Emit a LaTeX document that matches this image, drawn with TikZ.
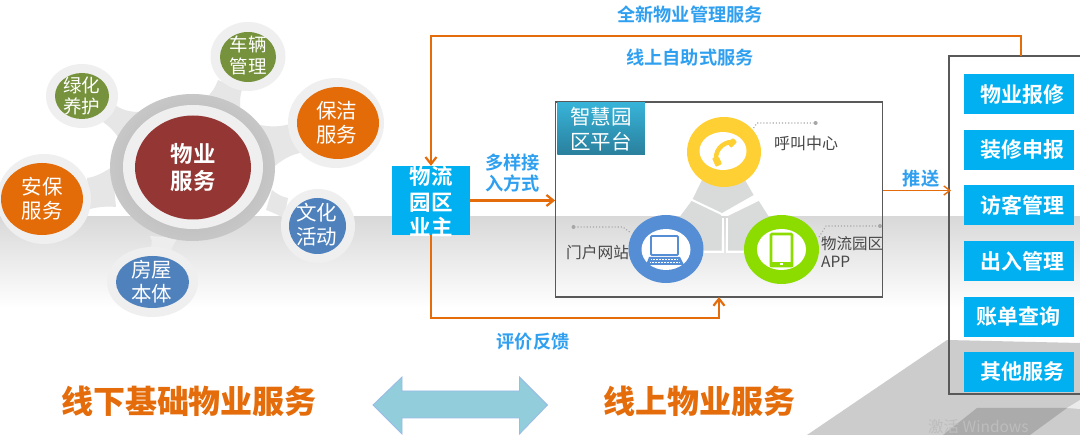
\documentclass[tikz,border=0pt]{standalone}
\usepackage{fontspec}
\setmainfont{Noto Sans CJK SC}[BoldFont={Noto Sans CJK SC Bold}]
\newfontfamily\heavyfont{Noto Sans CJK SC Black}
\usetikzlibrary{arrows.meta,shapes.geometric,shapes.arrows}
\definecolor{flow}{HTML}{E46C0A}
\definecolor{sky}{HTML}{00B0F0}
\definecolor{lab}{HTML}{2F9FF0}
\definecolor{halo}{HTML}{EFEFEF}
\definecolor{neck}{HTML}{E6E6E6}
\definecolor{tripod}{HTML}{D9DBDB}
\definecolor{grn}{HTML}{76923C}
\definecolor{org}{HTML}{E36C09}
\definecolor{blu}{HTML}{4F81BD}
\definecolor{dred}{HTML}{943634}
\definecolor{ylw}{HTML}{FFD033}
\definecolor{cblue}{HTML}{558ED5}
\definecolor{cgreen}{HTML}{8CDC00}
\definecolor{tiletop}{HTML}{37B3D8}
\definecolor{tilebot}{HTML}{2A7F9C}
\definecolor{dblarrow}{HTML}{92CDDC}
\tikzset{
  x=1pt,y=-1pt,
  flowline/.style={draw=flow,line width=2.6pt,-{Straight Barb[length=7pt,width=11pt,line width=2.2pt]}},
  halonode/.style={ellipse,fill=halo,inner sep=0pt},
  satfill/.style={ellipse,inner sep=0pt},
  sattxt/.style={text=white,align=center,inner sep=0pt,font=\fontsize{20.5}{24}\selectfont},
  sattxtsm/.style={text=white,align=center,inner sep=0pt,font=\fontsize{18.5}{21.5}\selectfont},
  bluelab/.style={text=lab,font=\bfseries\fontsize{18.2}{21}\selectfont,align=center,inner sep=0pt},
  graylab/.style={text=black!72,font=\fontsize{16}{18}\selectfont,align=left,inner sep=0pt},
  btn/.style={fill=sky,minimum width=110pt,minimum height=40pt,inner sep=0pt},
  btntxt/.style={text=white,font=\bfseries\fontsize{21}{25}\selectfont,inner sep=0pt},
  bigtxt/.style={text=flow,font=\heavyfont\fontsize{32}{36}\selectfont,inner sep=0pt},
  ringc/.style={ellipse,inner sep=0pt},
  hole/.style={ellipse,fill=white,inner sep=0pt,minimum width=49pt,minimum height=41pt},
  dots/.style={draw=black!35,line width=1.1pt,dotted},
  dotend/.style={circle,fill=black!35,inner sep=0pt,minimum size=4pt},
}
\begin{document}
\begin{tikzpicture}
\useasboundingbox (0,0) rectangle (1080,435);
\fill[white] (0,0) rectangle (1080,435);
% background band
\shade[top color=black!15,bottom color=white] (0,217) rectangle (1080,308);
% lower right grey
\fill[black!20] (807,435) -- (947,340) -- (1080,343) -- (1080,435) -- cycle;
\fill[black!33] (943,435) -- (977,408) -- (1067,408) -- (1030,435) -- cycle;
\fill[white!92!black] (1067,408) -- (1080,400) -- (1080,409) -- cycle;
\node[text=black!26,font=\fontsize{15.5}{18}\selectfont,inner sep=0pt,anchor=west] (wm) at (928,427) {激活 Windows};
% necks
\fill[neck] (218,80) .. controls (215,88) and (212,93) .. (205,99) -- (240,107) .. controls (240,100) and (240,95) .. (242,90) -- cycle;
\fill[neck] (115,105) .. controls (122,110) and (130,112) .. (139,112) -- (118,137) .. controls (114,131) and (109,126) .. (103,122) -- cycle;
\fill[neck] (260,125) .. controls (270,127) and (280,127) .. (290,124) -- (300,153) .. controls (290,155) and (282,160) .. (275,166) -- cycle;
\fill[neck] (272,190) .. controls (277,194) and (282,197) .. (288,198) -- (284,218) .. controls (278,215) and (272,212) .. (266,210) -- cycle;
\fill[white!93!black] (150,236) .. controls (153,241) and (152,246) .. (149,252) -- (171,252) .. controls (172,247) and (174,243) .. (178,238) -- cycle;
\fill[neck] (87,178) .. controls (95,177) and (103,173) .. (112,167) -- (116,207) .. controls (107,206) and (98,207) .. (90,209) -- cycle;
% central hub
\node[ringc,minimum width=165pt,minimum height=147pt,inner color=black!32,outer color=black!22] (ring) at (192.5,167.5) {};
\node[ringc,fill=halo,minimum width=140pt,minimum height=124pt] (ringin) at (193,167) {};
\node[ringc,fill=dred,minimum width=116pt,minimum height=104pt,text=white,align=center,font=\bfseries\fontsize{22.5}{27.5}\selectfont] (hub) at (193,167.5) {物业\\服务};
% satellites
\node[halonode,minimum width=75pt,minimum height=69pt] (h1) at (248,56.5) {};
\node[satfill,fill=grn,minimum width=56pt,minimum height=50pt] (s1) at (248,57) {};
\node[sattxtsm] (t11) at (248,55.5) {车辆\\管理};
\node[halonode,minimum width=72pt,minimum height=64pt] (h2) at (82,96) {};
\node[satfill,fill=grn,minimum width=54pt,minimum height=46pt] (s2) at (82,96) {};
\node[sattxtsm] (t12) at (81.7,96) {绿化\\养护};
\node[halonode,minimum width=96pt,minimum height=90pt] (h3) at (336,123) {};
\node[satfill,fill=org,minimum width=82pt,minimum height=72pt] (s3) at (338,123) {};
\node[sattxt] (t13) at (336.7,123) {保洁\\服务};
\node[halonode,minimum width=74pt,minimum height=74pt] (h4) at (318,226) {};
\node[satfill,fill=blu,minimum width=57pt,minimum height=56pt] (s4) at (317.5,226) {};
\node[sattxt] (t14) at (316.7,225) {文化\\活动};
\node[halonode,minimum width=91pt,minimum height=70pt] (h5) at (152.5,282) {};
\node[satfill,fill=blu,minimum width=73pt,minimum height=52pt] (s5) at (152.5,282) {};
\node[sattxt] (t15) at (151.7,282) {房屋\\本体};
\node[halonode,minimum width=94pt,minimum height=90pt] (h6) at (44,199) {};
\node[satfill,fill=org,minimum width=82pt,minimum height=72pt] (s6) at (42,199) {};
\node[sattxt] (t16) at (42.3,199) {安保\\服务};
% platform
\node[draw=black!65,line width=1.2pt,minimum width=327pt,minimum height=195pt,inner sep=0pt] (plat) at (719.3,199.5) {};
\node[minimum width=87.5pt,minimum height=52pt,inner sep=0pt,top color=tiletop,bottom color=tilebot,text=white,align=center,font=\fontsize{20.5}{25}\selectfont] (tile) at (601,129) {智慧园\\区平台};
% tripod
\fill[tripod] (702,180) -- (745,180) -- (753.6,195) -- (722,213) -- (692.7,199) -- cycle;
\fill[tripod] (691.6,201) -- (721,215) -- (721,250) -- (703.7,250) -- (679.6,217) -- cycle;
\fill[tripod] (758.8,201) -- (726,217) -- (726,250) -- (744,250) -- (769,217) -- cycle;
\draw[white,line width=1.6pt] (703,252) -- (723,252) -- (723,218);
\draw[white,line width=1.6pt] (727,218) -- (727,252) -- (745,252);
% icons circles
\node[ringc,fill=ylw,minimum width=74pt,minimum height=70pt] (call) at (724,152) {};
\node[hole,minimum width=47pt,minimum height=38pt] (callh) at (723,151) {};
\node[ringc,fill=cblue,minimum width=75pt,minimum height=68pt] (web) at (666,249) {};
\node[hole] (webh) at (666,249.5) {};
\node[ringc,fill=cgreen,minimum width=75pt,minimum height=69pt] (app) at (781.5,249.5) {};
\node[hole] (apph) at (781.5,249.5) {};
% phone icon
\draw[ylw,line width=4.5pt] (732,142) .. controls (722,142) and (713,152) .. (717,163);
\fill[ylw,rounded corners=1pt] (727,143) -- (733,138) -- (737,142) -- (731,148) -- cycle;
\fill[ylw,rounded corners=1pt] (712,158) -- (719,157) -- (722,164) -- (716,167) -- cycle;
% laptop icon
\draw[cblue,line width=1.8pt,rounded corners=1pt,fill=white] (651,236) rectangle (678,255);
\fill[cblue] (649,257) -- (680,257) -- (684,265) -- (646,265) -- cycle;
\draw[white,line width=.5pt,densely dotted] (651,259.5) -- (678,259.5) (650,262) -- (679,262);
% tablet icon
\draw[cgreen,line width=2.6pt,rounded corners=1pt] (771,234) rectangle (792,266);
\fill[cgreen] (769.7,262) rectangle (793.3,267);
\fill[white] (780,263.5) rectangle (783,265.5);
% icon labels
\node[graylab,anchor=west] (lcall) at (774,143) {呼叫中心};
\node[graylab,anchor=west,font=\fontsize{15.7}{18}\selectfont] (lweb) at (566,253) {门户网站};
\node[graylab,anchor=north west,inner sep=0pt,font=\fontsize{15.5}{18.5}\selectfont] (lapp) at (821,236) {物流园区\\APP};
\node[dotend] (d1) at (815.6,123) {};
\node[dotend] (d2) at (573.5,227) {};
\node[dotend] (d3) at (880,226) {};
\draw[dots] (753.6,128) -- (757,123) -- (d1);
\draw[dots] (629.6,232) -- (622.8,227) -- (d2);
\draw[dots] (819,237) -- (826,226) -- (d3);
% owner
\node[fill=sky,minimum width=78pt,minimum height=69pt,inner sep=0pt] (owner) at (431,200.5) {};
\node[text=white,align=center,inner sep=0pt,font=\bfseries\fontsize{21.5}{25.5}\selectfont] (ownertxt) at (431,201.5) {物流\\园区\\业主};
% right panel
\node[draw=black!65,line width=1.2pt,minimum width=150pt,minimum height=338pt,inner sep=0pt] (panel) at (1024,225) {};
\node[btn] (b1) at (1019,94.3) {};
\node[btntxt] (t1) at (1022,94.3) {物业报修};
\node[btn] (b2) at (1019,150) {};
\node[btntxt] (t2) at (1022,150) {装修申报};
\node[btn] (b3) at (1019,205) {};
\node[btntxt] (t3) at (1022,205) {访客管理};
\node[btn] (b4) at (1019,261) {};
\node[btntxt] (t4) at (1022,261) {出入管理};
\node[btn] (b5) at (1019,317) {};
\node[btntxt] (t5) at (1018.5,317) {账单查询};
\node[btn] (b6) at (1019,372) {};
\node[btntxt] (t6) at (1022,372) {其他服务};
% connectors
\coordinate (pt) at (1021,56);
\coordinate (tr) at (1021,36);
\coordinate (tl) at (431,36);
\coordinate (bl) at (431,318);
\coordinate (br) at (719,318);
\coordinate (fe) at (719,297);
\draw[flowline] (pt) -- (tr) -- (tl) -- (owner.north);
\draw[flowline] (owner.south) -- (bl) -- (br) -- (fe);
\draw[flowline] (owner.east) -- (plat.west |- owner.east);
\coordinate (ps) at (883,190.5);
\coordinate (pe) at (951,190.5);
\draw[draw=flow,line width=1.6pt,-{Straight Barb[length=6pt,width=9pt,line width=1.4pt]}] (ps) -- (pe);
% flow labels
\node[bluelab] (l1) at (690,15) {全新物业管理服务};
\node[bluelab] (l2) at (690,58) {线上自助式服务};
\node[bluelab] (l3) at (512.6,173.5) {多样接\\入方式};
\node[bluelab] (l4) at (533,341.5) {评价反馈};
\node[bluelab] (l5) at (921,179) {推送};
% bottom
\node[bigtxt] (bl1) at (189,401) {线下基础物业服务};
\node[bigtxt] (bl2) at (699,401) {线上物业服务};
\path[fill=dblarrow,draw=cblue!60,line width=.8pt]
  (373,405) -- (402,377) -- (402,391) -- (519.5,391) -- (519.5,377) -- (547.5,405) -- (519.5,434) -- (519.5,418) -- (402,418) -- (402,434) -- cycle;
\end{tikzpicture}
\end{document}
